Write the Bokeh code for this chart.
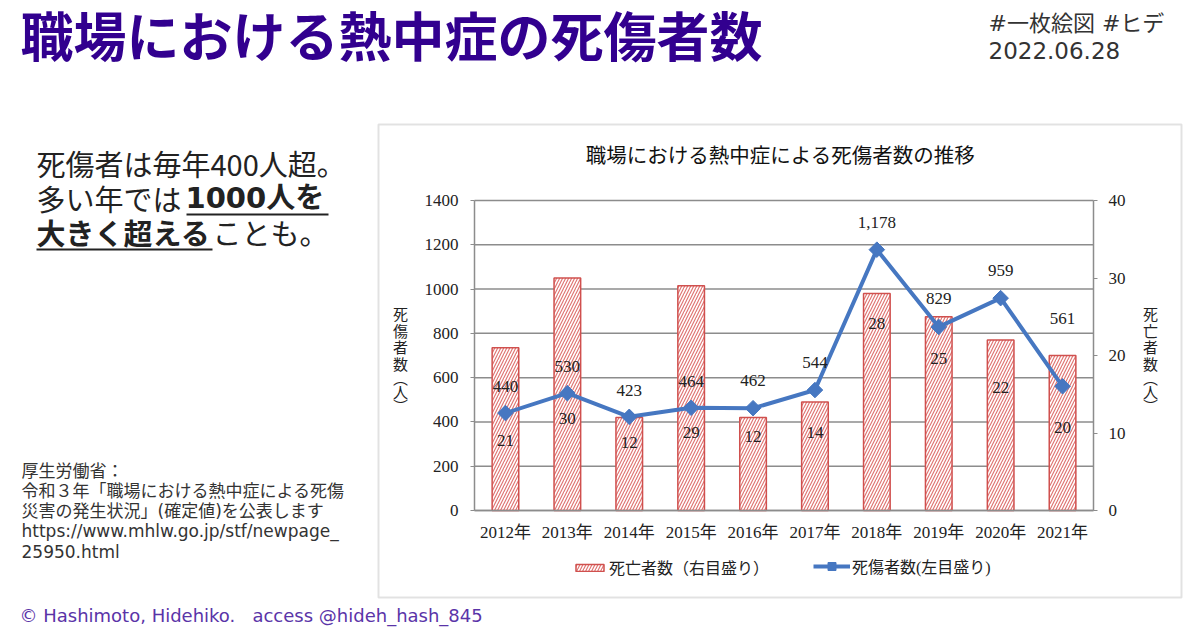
import math
from bokeh.plotting import figure
from bokeh.models import (Range1d, LinearAxis, FixedTicker, Label, BoxAnnotation,
                          Legend, LegendItem, ColumnDataSource)
from bokeh.core.properties import value
from bokeh.embed import file_html
from bokeh.resources import INLINE

# ---------------- data ----------------
years = ["2012年", "2013年", "2014年", "2015年", "2016年",
         "2017年", "2018年", "2019年", "2020年", "2021年"]
deaths = [21, 30, 12, 29, 12, 14, 28, 25, 22, 20]                     # right axis
casualties = [440, 530, 423, 464, 462, 544, 1178, 829, 959, 561]       # left axis
left_ticks = [0, 200, 400, 600, 800, 1000, 1200, 1400]
right_ticks = [0, 10, 20, 30, 40]

# where the data labels sit (label anchors, in axis units)
casualty_label_at = [560, 650, 542, 583, 587, 668, 1300, 957, 1084, 867]
death_label_at = [9.0, 11.9, 8.8, 10.1, 9.5, 10.1, 24.1, 19.6, 15.9, 10.7]

# ---------------- page geometry / styling ----------------
W, H = 1200, 629
PL, PR, PT, PB = 474, 1093, 200, 510          # plot area on the page (px)
SERIF = "'Liberation Serif', 'Noto Sans CJK JP'"
JP = "'Noto Sans CJK JP'"
SANS = "'DejaVu Sans', 'Noto Sans CJK JP'"
GRID = "#8c8c8c"
BLUE = "#4677c1"
RED = "#d0504e"
BOXC = "#a0a0a0"

n = len(years)
idx = list(range(n))
cat_px = (PR - PL) / n
y_max_l, y_max_r = left_ticks[-1], right_ticks[-1]
ppu_l = (PB - PT) / y_max_l
ppu_r = (PB - PT) / y_max_r

p = figure(width=W, height=H,
           x_range=Range1d(0, W), y_range=Range1d(H, 0),
           x_axis_type=None, y_axis_type=None,
           output_backend="svg", toolbar_location=None,
           min_border=0, min_border_left=0, min_border_right=0,
           min_border_top=0, min_border_bottom=0,
           background_fill_color="white", border_fill_color="white")
p.outline_line_color = None

# chart scales mapped onto the plot area of the page
p.extra_x_ranges = {"yr": Range1d(-0.5 - PL / cat_px, -0.5 + (W - PL) / cat_px)}
p.extra_y_ranges = {
    "cas": Range1d(-(H - PB) / ppu_l, y_max_l + PT / ppu_l),
    "dea": Range1d(-(H - PB) / ppu_r, y_max_r + PT / ppu_r),
}

src = ColumnDataSource(dict(
    i=idx, years=years, deaths=deaths, casualties=casualties,
    ctext=[f"{v:,}" for v in casualties], dtext=[str(v) for v in deaths],
    cy=casualty_label_at, dy=death_label_at))

# horizontal grid lines at the left-axis ticks
p.segment(x0=-0.5, x1=n - 0.5, y0=left_ticks, y1=left_ticks,
          x_range_name="yr", y_range_name="cas", line_color=GRID, line_width=1.5)

bars = p.vbar(x="i", top="deaths", width=0.43, source=src,
              x_range_name="yr", y_range_name="dea",
              fill_color="white", line_color=RED, line_width=1.5,
              hatch_pattern="/", hatch_color="#e07674", hatch_scale=6, hatch_weight=1.2)
line = p.line(x="i", y="casualties", source=src, x_range_name="yr", y_range_name="cas",
              line_color=BLUE, line_width=4)
pts = p.scatter(x="i", y="casualties", source=src, x_range_name="yr", y_range_name="cas",
                marker="square", angle=math.pi / 4, size=11,
                fill_color=BLUE, line_color=BLUE)

p.text(x="i", y="cy", text="ctext", source=src, x_range_name="yr", y_range_name="cas",
       text_align="center", text_baseline="middle", text_font=value(SERIF),
       text_font_size="17px", text_color="#222222")
p.text(x="i", y="dy", text="dtext", source=src, x_range_name="yr", y_range_name="dea",
       text_align="center", text_baseline="middle", text_font=value(SERIF),
       text_font_size="17px", text_color="#222222")


def style_axis(a, standoff):
    a.axis_line_color = GRID
    a.axis_line_width = 1.5
    a.minor_tick_line_color = None
    a.major_label_standoff = standoff
    a.major_label_text_font = SERIF
    a.major_label_text_font_size = "17px"
    a.major_label_text_color = "#222222"


xa = LinearAxis(x_range_name="yr", fixed_location=PB, bounds=(-0.5, n - 0.5),
                ticker=FixedTicker(ticks=idx),
                major_label_overrides={i: y for i, y in zip(idx, years)})
style_axis(xa, 12)
xa.major_tick_line_color = None
xa.major_tick_out = 0
xa.major_tick_in = 0
p.add_layout(xa, "below")

la = LinearAxis(y_range_name="cas", fixed_location=PL, bounds=(0, y_max_l),
                ticker=FixedTicker(ticks=left_ticks))
style_axis(la, 12)
la.major_tick_line_color = GRID
la.major_tick_in = 0
la.major_tick_out = 4
p.add_layout(la, "left")

ra = LinearAxis(y_range_name="dea", fixed_location=PR, bounds=(0, y_max_r),
                ticker=FixedTicker(ticks=right_ticks))
style_axis(ra, 11)
ra.major_tick_line_color = GRID
ra.major_tick_in = 0
ra.major_tick_out = 4
p.add_layout(ra, "right")

legend_style = dict(orientation="horizontal", padding=0, margin=0, label_standoff=2,
                    border_line_color=None, background_fill_alpha=0,
                    label_text_font=SERIF, label_text_font_size="16px",
                    label_text_color="#222222")
p.add_layout(Legend(items=[LegendItem(label="死亡者数（右目盛り）", renderers=[bars])],
                    location=(572, H - 579), glyph_width=35, glyph_height=9,
                    label_height=9, **legend_style))
p.add_layout(Legend(items=[LegendItem(label="死傷者数(左目盛り)", renderers=[line, pts])],
                    location=(813, H - 578), glyph_width=37, glyph_height=20,
                    label_height=20, **legend_style))


def lab(text, x, y, size, font, color="#222222", style="normal",
        align="left", baseline="middle", lh=1.2):
    p.add_layout(Label(x=x, y=y, text=text, text_font_size=size, text_font=font,
                       text_color=color, text_font_style=style, text_align=align,
                       text_baseline=baseline, text_line_height=lh))


# chart box, chart title, axis titles
p.add_layout(BoxAnnotation(left=378, right=1181, top=124, bottom=597,
                           fill_alpha=0, line_color=BOXC, line_width=2))
lab("職場における熱中症による死傷者数の推移", 780, 153, "20.5px", JP, color="#111111",
    align="center")
for xc, word in ((400, "死\n傷\n者\n数"), (1150, "死\n亡\n者\n数")):
    lab(word, xc, 338, "15px", JP, align="center", lh=0.79)
    lab("︵\n人\n︶", xc, 391, "15px", JP, align="center", lh=0.68)

# header
lab("職場における熱中症の死傷者数", 20, 33, "53px", JP, color="#32008f", style="bold")
lab("#一枚絵図 #ヒデ", 988, 23, "22px", SANS, color="#333333")
lab("2022.06.28", 988, 50, "23px", SANS, color="#333333")

# left message
lab("死傷者は毎年400人超。", 36, 162, "29px", JP)
lab("多い年では", 36, 197, "29px", JP)
lab("1000人を", 185, 197, "29px", SANS, style="bold")
lab("大きく超える", 36, 231, "29px", JP, style="bold")
lab("ことも。", 212, 231, "29px", JP)
p.segment(x0=[186, 36], x1=[328, 212], y0=[214, 249], y1=[214, 249],
          line_color="#222222", line_width=2)

# source note
src_lines = ["厚生労働省：",
             "令和３年「職場における熱中症による死傷",
             "災害の発生状況」(確定値)を公表します",
             "https://www.mhlw.go.jp/stf/newpage_",
             "25950.html"]
for k, t in enumerate(src_lines):
    lab(t, 21, 470 + 20.3 * k, "17px", SANS, color="#333333")

# footer
lab("© Hashimoto, Hidehiko.\u00a0\u00a0\u00a0access @hideh_hash_845", 19, 615,
    "18px", SANS, color="#5a34a8")

open("out.html", "w").write(file_html(p, INLINE))
